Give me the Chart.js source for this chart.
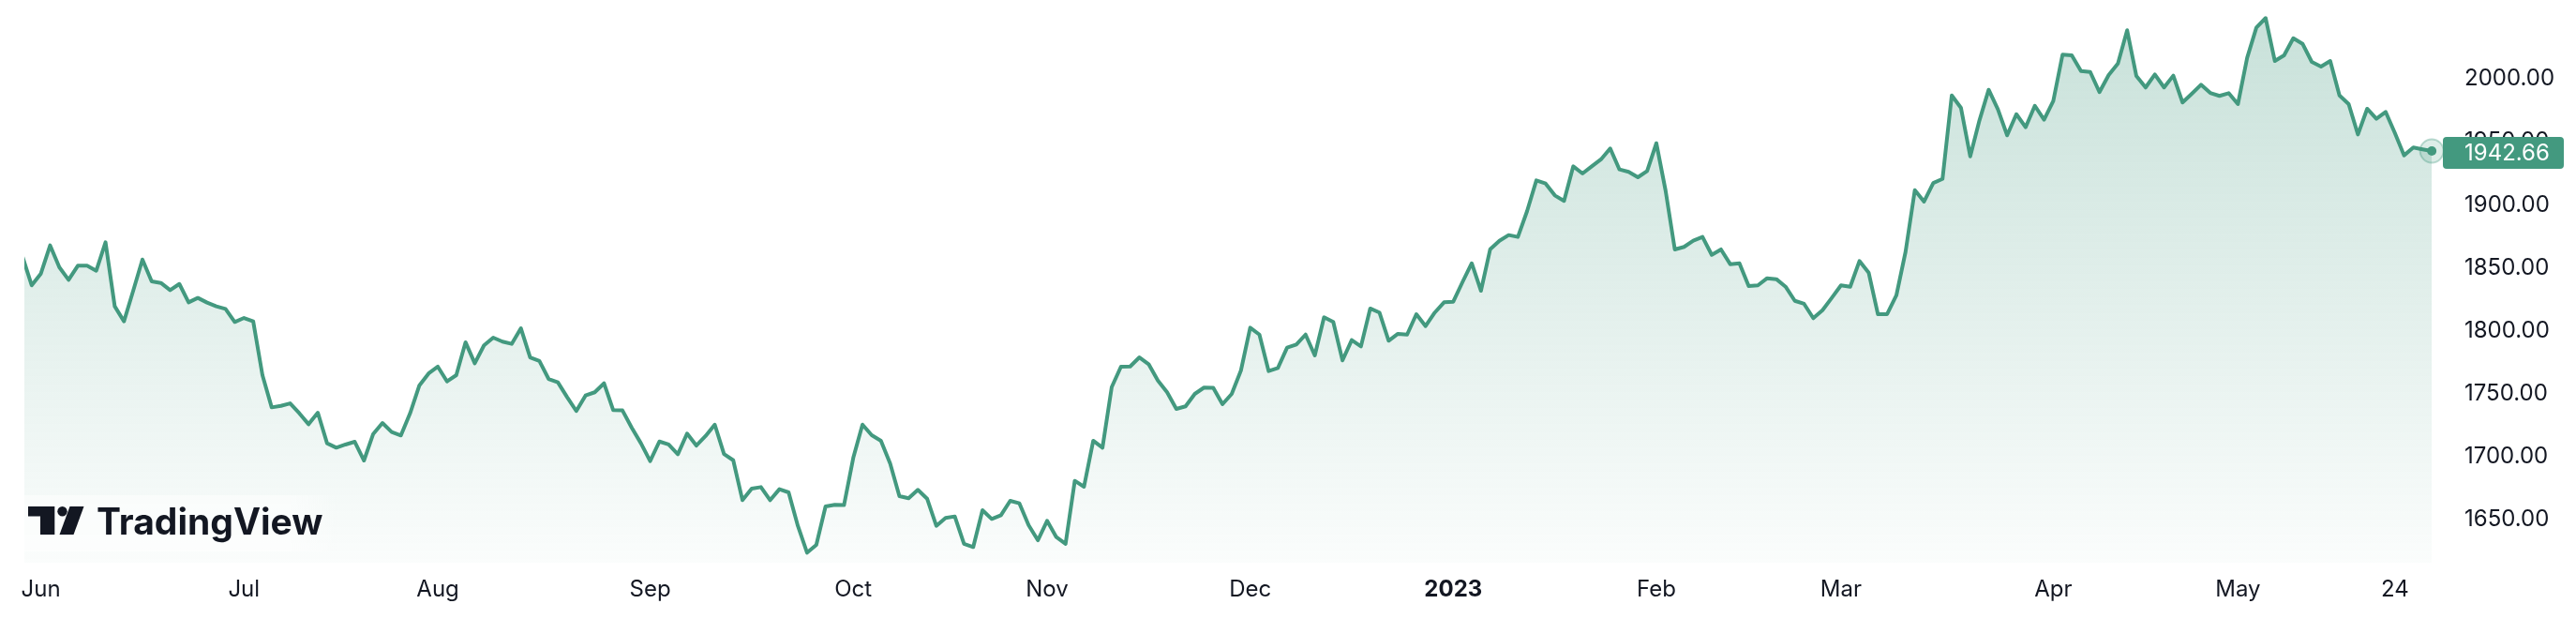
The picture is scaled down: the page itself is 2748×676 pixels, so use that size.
<!DOCTYPE html>
<html>
<head>
<meta charset="utf-8">
<script src="https://cdn.jsdelivr.net/npm/chart.js@4.4.1/dist/chart.umd.min.js"></script>
<style>
html,body{margin:0;padding:0;background:#fff;overflow:hidden}
canvas{display:block}
</style>
</head>
<body>
<canvas id="c" width="2748" height="676"></canvas>
<script>
// ---- data (daily closes) ----
const prices = [
1859.0,1836.0,1845.3,1867.7,1850.3,1840.4,1851.6,1851.6,1847.6,1870.2,
1819.3,1807.4,1831.7,1856.5,1839.2,1837.9,1832.2,1837.1,1822.5,1826.0,
1822.3,1819.3,1817.3,1806.9,1810.1,1807.4,1764.7,1739.1,1740.3,1742.3,
1734.4,1725.7,1734.9,1710.6,1707.1,1709.6,1711.8,1696.9,1718.0,1726.7,
1719.5,1716.8,1734.5,1756.5,1766.0,1771.4,1759.7,1764.7,1790.8,1774.1,
1788.3,1794.5,1791.3,1789.5,1801.9,1778.8,1775.9,1761.7,1759.0,1747.3,
1736.2,1748.5,1751.1,1758.2,1736.9,1736.7,1723.0,1710.6,1696.4,1712.0,
1709.6,1701.9,1718.3,1708.8,1716.3,1725.4,1702.1,1697.1,1665.4,1674.6,
1675.8,1665.4,1674.1,1671.6,1645.0,1623.7,1629.9,1660.4,1661.7,1661.5,
1698.9,1725.4,1717.0,1712.6,1694.5,1668.6,1666.9,1673.6,1666.6,1645.0,
1651.3,1652.5,1630.7,1628.2,1657.5,1650.5,1653.5,1664.9,1662.9,1645.5,
1633.6,1649.0,1636.1,1630.7,1680.8,1676.1,1712.6,1707.1,1755.2,1771.4,
1771.6,1778.8,1773.4,1760.4,1751.1,1737.9,1739.9,1749.8,1754.8,1754.6,
1741.6,1749.8,1768.4,1802.4,1796.9,1767.9,1770.4,1786.5,1789.0,1796.9,
1780.3,1810.6,1806.9,1776.4,1792.5,1787.5,1817.6,1814.4,1792.0,1797.5,
1796.9,1813.1,1803.6,1814.4,1822.5,1823.0,1838.6,1853.5,1831.7,1864.7,
1871.4,1875.9,1874.4,1895.0,1919.3,1916.8,1907.4,1903.0,1930.5,1924.8,
1930.5,1936.0,1944.7,1928.0,1926.1,1921.8,1926.8,1948.8,1911.2,1864.5,
1866.5,1871.4,1874.4,1860.2,1864.5,1852.8,1853.5,1835.4,1836.0,1841.6,
1840.9,1834.9,1823.7,1821.3,1809.9,1816.3,1826.0,1836.0,1834.9,1855.3,
1846.1,1813.1,1813.1,1828.0,1862.8,1911.6,1902.5,1917.3,1920.5,1986.8,
1976.9,1938.4,1967.0,1991.3,1975.7,1955.1,1971.9,1961.5,1978.6,1967.5,
1982.4,2019.1,2018.6,2006.2,2005.4,1989.4,2003.0,2012.1,2038.5,2002.2,
1993.1,2003.5,1993.1,2002.5,1981.2,1988.1,1995.3,1988.8,1986.4,1988.6,
1979.9,2016.6,2040.7,2048.2,2014.1,2018.6,2032.2,2027.8,2013.4,2009.7,
2014.1,1986.8,1979.9,1955.8,1976.2,1968.2,1973.7,1957.0,1939.2,1945.4,
1944.0,1942.66
];
const lastPrice = 1942.66;
const timeTickIndex  = [2, 24, 45, 68, 90, 111, 133, 155, 177, 197, 220, 240, 257];
const timeTickLabels = ['Jun','Jul','Aug','Sep','Oct','Nov','Dec','2023','Feb','Mar','Apr','May','24'];
const boldTimeTicks  = ['2023'];
const priceTicks = [1650, 1700, 1750, 1800, 1850, 1900, 1950, 2000];

// ---- style ----
const LINE = 'rgb(67,153,127)';
const TEXT = '#131722';
const FONT = 'Inter, "Noto Sans", "DejaVu Sans", sans-serif';
Chart.defaults.font.family = FONT;

const points = prices.map((v, i) => ({x: i, y: v}));

const overlay = {
  id: 'overlay',
  afterDraw(chart) {
    const c = chart.ctx;
    const meta = chart.getDatasetMeta(0);
    const pt = meta.data[meta.data.length - 1];
    c.save();
    // halo + last point
    c.beginPath(); c.arc(pt.x, pt.y, 12.5, 0, Math.PI * 2);
    c.fillStyle = 'rgba(67,153,127,0.18)'; c.fill();
    c.lineWidth = 2; c.strokeStyle = 'rgba(67,153,127,0.35)'; c.stroke();
    c.beginPath(); c.arc(pt.x, pt.y, 5, 0, Math.PI * 2);
    c.fillStyle = LINE; c.fill();
    // price label
    const py = chart.scales.y.getPixelForValue(lastPrice);
    const bx = 2606, bw = 129, bh = 34, by = py - 15;
    c.beginPath();
    if (c.roundRect) c.roundRect(bx, by, bw, bh, 4); else c.rect(bx, by, bw, bh);
    c.fillStyle = LINE; c.fill();
    c.fillStyle = '#ffffff';
    c.font = '24px ' + FONT;
    c.textAlign = 'left'; c.textBaseline = 'middle';
    c.fillText(lastPrice.toFixed(2), 2629, by + bh / 2 + 1);
    // watermark backdrop (soft)
    const wg = c.createLinearGradient(26, 0, 360, 0);
    wg.addColorStop(0, 'rgba(255,255,255,0.5)');
    wg.addColorStop(0.85, 'rgba(255,255,255,0.5)');
    wg.addColorStop(1, 'rgba(255,255,255,0)');
    c.fillStyle = wg;
    c.fillRect(26, 528, 334, 60);
    // TradingView logo mark
    c.fillStyle = TEXT;
    c.beginPath();
    c.moveTo(30, 540); c.lineTo(58.3, 540); c.lineTo(58.3, 570); c.lineTo(43, 570);
    c.lineTo(43, 550.5); c.lineTo(30, 550.5); c.closePath(); c.fill();
    c.beginPath(); c.arc(66.5, 545.2, 5.2, 0, Math.PI * 2); c.fill();
    c.beginPath();
    c.moveTo(74.5, 540); c.lineTo(89.5, 540); c.lineTo(78.5, 570); c.lineTo(63.5, 570);
    c.closePath(); c.fill();
    c.font = 'bold 39px ' + FONT;
    c.textAlign = 'left'; c.textBaseline = 'alphabetic';
    c.fillText('TradingView', 103, 570);
    c.restore();
  }
};

new Chart(document.getElementById('c'), {
  type: 'line',
  data: {
    datasets: [{
      data: points,
      borderColor: LINE,
      borderWidth: 4,
      borderJoinStyle: 'round',
      pointRadius: 0,
      tension: 0,
      clip: 0,
      fill: 'start',
      backgroundColor: (ctx) => {
        const area = ctx.chart.chartArea;
        if (!area) return 'rgba(67,153,127,0.15)';
        const g = ctx.chart.ctx.createLinearGradient(0, area.top, 0, area.bottom);
        g.addColorStop(0, 'rgba(67,153,127,0.30)');
        g.addColorStop(1, 'rgba(67,153,127,0.025)');
        return g;
      }
    }]
  },
  options: {
    responsive: false,
    animation: false,
    devicePixelRatio: 1,
    events: [],
    layout: {padding: {left: 26, right: 0, top: 0, bottom: 0}},
    plugins: {legend: {display: false}, tooltip: {enabled: false}},
    scales: {
      x: {
        type: 'linear',
        min: 0.21,
        max: 262,
        grid: {display: false, drawTicks: false},
        border: {display: false},
        afterFit: (s) => { s.height = 76; s.paddingLeft = 0; s.paddingRight = 0; },
        afterBuildTicks: (s) => { s.ticks = timeTickIndex.map(v => ({value: v})); },
        ticks: {
          autoSkip: false,
          maxRotation: 0,
          padding: 14,
          color: TEXT,
          font: (ctx) => ({
            size: 24,
            weight: (ctx.tick && boldTimeTicks.includes(timeTickLabels[timeTickIndex.indexOf(ctx.tick.value)])) ? 'bold' : 'normal'
          }),
          callback: (v) => timeTickLabels[timeTickIndex.indexOf(v)]
        }
      },
      y: {
        type: 'linear',
        position: 'right',
        min: 1615.75,
        max: 2062.55,
        grid: {display: false, drawTicks: false},
        border: {display: false},
        afterFit: (s) => { s.width = 144; s.paddingTop = 0; s.paddingBottom = 0; },
        afterBuildTicks: (s) => { s.ticks = priceTicks.map(v => ({value: v})); },
        ticks: {
          padding: 25,
          color: TEXT,
          font: {size: 24},
          callback: (v) => Number(v).toFixed(2)
        }
      }
    }
  },
  plugins: [overlay]
});
</script>
</body>
</html>
